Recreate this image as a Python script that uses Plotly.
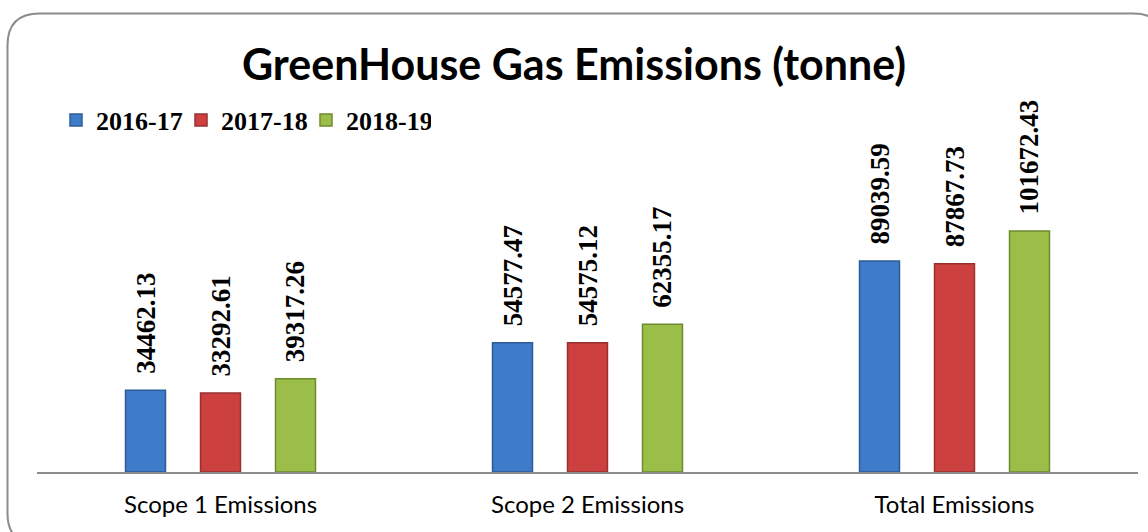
import plotly.graph_objects as go

categories = ["Scope 1 Emissions", "Scope 2 Emissions", "Total Emissions"]
series_names = ["2016-17", "2017-18", "2018-19"]
values_2016_17 = [34462.13, 54577.47, 89039.59]
values_2017_18 = [33292.61, 54575.12, 87867.73]
values_2018_19 = [39317.26, 62355.17, 101672.43]

series_values = [values_2016_17, values_2017_18, values_2018_19]
fill_colors = ["#3E7BC9", "#CC4040", "#9BBE48"]
edge_colors = ["#2E5C98", "#983030", "#6E8A30"]

W, H = 1148, 532

fig = go.Figure()
for name, vals, fc, ec in zip(series_names, series_values, fill_colors, edge_colors):
    fig.add_trace(go.Bar(
        name=name,
        x=categories,
        y=vals,
        marker=dict(color=fc, line=dict(color=ec, width=1.5)),
        text=["\u00a0\u00a0" + f"{v:.2f}" for v in vals],
        textposition="outside",
        textangle=-90,
        constraintext="none",
        cliponaxis=False,
        textfont=dict(family="Liberation Serif", size=27, color="black", weight="bold"),
    ))

# rounded frame around the chart (paper coordinates)
x0, x1 = 7.5 / W, 1165 / W
yt, yb = 1 - 13.5 / H, 1 - 545 / H
rx, ry = 32 / W, 32 / H
frame = (
    f"M {x0+rx},{yt} L {x1-rx},{yt} Q {x1},{yt} {x1},{yt-ry} "
    f"L {x1},{yb+ry} Q {x1},{yb} {x1-rx},{yb} "
    f"L {x0+rx},{yb} Q {x0},{yb} {x0},{yb+ry} "
    f"L {x0},{yt-ry} Q {x0},{yt} {x0+rx},{yt} Z"
)

fig.update_layout(
    width=W, height=H,
    margin=dict(l=0, r=0, t=0, b=0),
    paper_bgcolor="white",
    plot_bgcolor="white",
    barmode="group",
    bargap=0.387,
    bargroupgap=0.467,
    title=dict(
        text="<b>GreenHouse Gas Emissions (tonne)</b>",
        x=0.5, xanchor="center", xref="paper",
        y=1 - 65 / H, yanchor="middle", yref="container",
        font=dict(family="Lato", size=43, color="black"),
    ),
    legend=dict(
        orientation="h",
        x=56 / W, xanchor="left",
        y=1 - 120 / H, yanchor="middle",
        font=dict(family="Liberation Serif", size=26, color="black", weight="bold"),
        bgcolor="rgba(0,0,0,0)",
        traceorder="normal",
        entrywidth=80,
        entrywidthmode="pixels",
    ),
    xaxis=dict(
        domain=[37 / W, 1138 / W],
        showline=True, linecolor="#8C8C8C", linewidth=2,
        ticks="", showgrid=False,
        tickfont=dict(family="Lato", size=24, color="black"),
        ticklabelstandoff=10,
    ),
    yaxis=dict(
        domain=[1 - 472 / H, 1 - 100 / H],
        range=[0, 157000],
        visible=False,
        showgrid=False,
    ),
    shapes=[dict(
        type="path", xref="paper", yref="paper", path=frame,
        line=dict(color="#8C8C8C", width=2), fillcolor="rgba(0,0,0,0)",
        layer="above",
    )],
    showlegend=True,
)

fig.write_html(
    "out.html",
    config={"displayModeBar": False},
    post_script="document.body.style.margin='0';document.body.style.padding='0';",
)
